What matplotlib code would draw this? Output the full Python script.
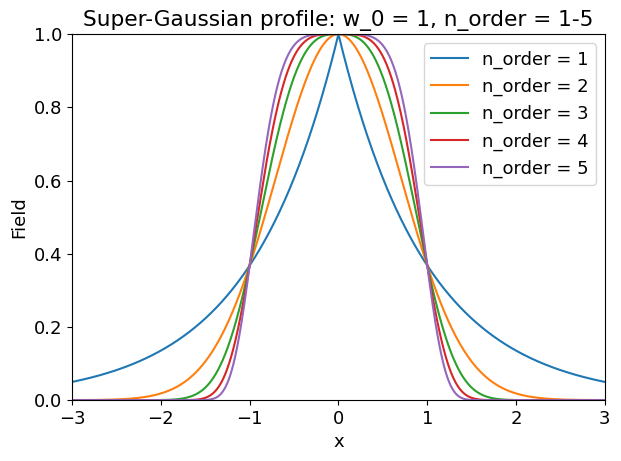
import numpy as np
import matplotlib
matplotlib.use("Agg")
import matplotlib.pyplot as plt

# profile parameters, as given in the title
w_0 = 1
n_orders = [1, 2, 3, 4, 5]
x_range = [-3, 3]

plt.rcParams['font.size'] = 13

x = np.linspace(x_range[0], x_range[1], 1001)

fig, ax = plt.subplots(figsize=(6.21, 4.61), dpi=100)
for n in n_orders:
    field = np.exp(-np.abs(x / w_0) ** n)
    ax.plot(x, field, label=f"n_order = {n}")

ax.set_xlim(x_range)
ax.set_ylim(0, 1)
ax.set_xlabel("x")
ax.set_ylabel("Field")
ax.set_title(f"Super-Gaussian profile: w_0 = {w_0}, n_order = {n_orders[0]}-{n_orders[-1]}")
ax.legend(loc="upper right")

fig.subplots_adjust(left=0.116, right=0.974, top=0.926, bottom=0.132)
fig.savefig("out.png")
